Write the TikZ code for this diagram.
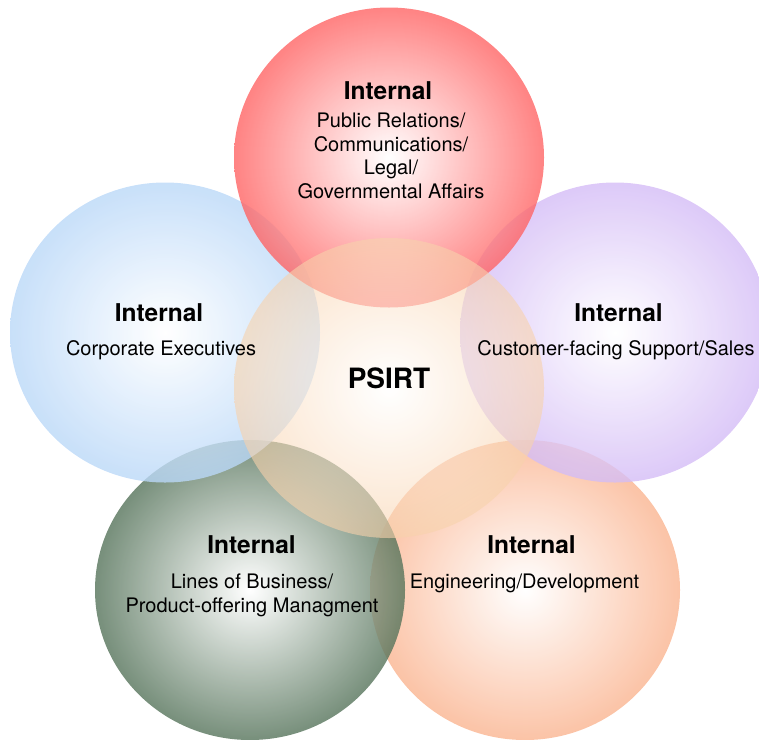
\documentclass[tikz,border=0pt]{standalone}
\usepackage{fontspec}
\setmainfont{TeX Gyre Heros}
\usepackage{xcolor}

\definecolor{pubred}{HTML}{FF6464}
\definecolor{execblue}{HTML}{BAD8F8}
\definecolor{salespurple}{HTML}{D4BCF6}
\definecolor{lobgreen}{HTML}{55735A}
\definecolor{engorange}{HTML}{FAB490}
\definecolor{psirtpeach}{HTML}{F8D2AC}

\begin{document}
\begin{tikzpicture}[x=1pt,y=-1pt,
        bubble/.style={fill opacity=0.8, inner color=white},
        head/.style={font=\fontsize{24.5}{29}\bfseries, anchor=base},
        role/.style={font=\fontsize{20}{23.5}\selectfont, anchor=base, align=center}]
            \useasboundingbox (0,0) rectangle (759,739);
            % the five groups round the team
            \coordinate (exec) at (165,332.5);
            \coordinate (sales) at (615,332.5);
            \coordinate (lob) at (250,590);
            \coordinate (eng) at (525,590);
            \coordinate (pub) at (389,157.5);
            \coordinate (team) at (389,388);
            \shade[bubble, outer color=engorange] (eng) ellipse [x radius=155, y radius=150];
            \shade[bubble, outer color=lobgreen] (lob) ellipse [x radius=155, y radius=150];
            \shade[bubble, outer color=execblue] (exec) ellipse [x radius=155, y radius=150];
            \shade[bubble, outer color=salespurple] (sales) ellipse [x radius=155, y radius=150];
            \shade[bubble, outer color=pubred] (pub) ellipse [x radius=155, y radius=150];
            \shade[bubble, fill opacity=0.6, outer color=psirtpeach] (team) ellipse [x radius=155, y radius=150];
            % labels (multi-line ones sit on their last line)
            \node[head] (pubhead) at (388,99) {Internal};
            \node[role] (pubtext) at (391,198) {Public Relations/\\Communications/\\Legal/\\Governmental Affairs};
            \node[head] (exechead) at (159,321) {Internal};
            \node[role] (exectext) at (161,355) {Corporate Executives};
            \node[head] (saleshead) at (618.5,321) {Internal};
            \node[role] (salestext) at (616,355) {Customer-facing Support/Sales};
            \node[font=\fontsize{28}{33}\bfseries, anchor=base] (psirt) at (389,388) {PSIRT};
            \node[head] (lobhead) at (251.5,553) {Internal};
            \node[role] (lobtext) at (252,612) {Lines of Business/\\Product-offering Managment};
            \node[head] (enghead) at (531.5,553) {Internal};
            \node[role] (engtext) at (524.5,588) {Engineering/Development};
\end{tikzpicture}
\end{document}
